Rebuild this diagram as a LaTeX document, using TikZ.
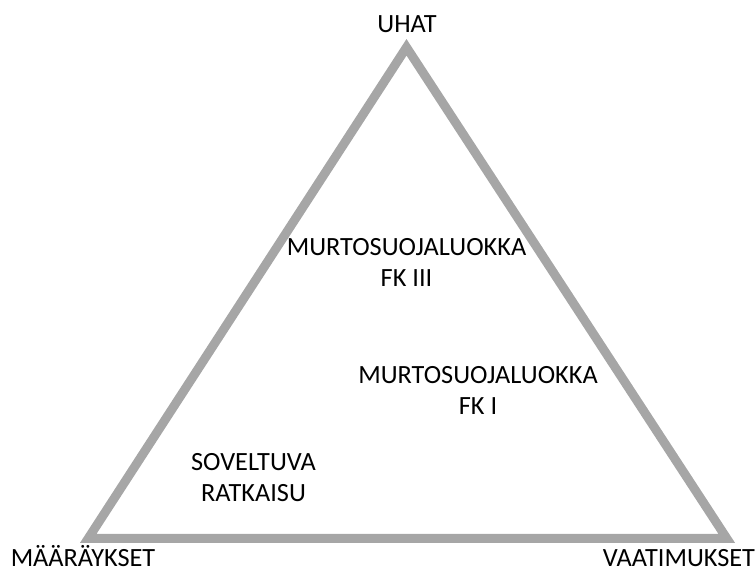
\documentclass[tikz,border=0pt]{standalone}
\usepackage{fontspec}
\setmainfont{Carlito}
\definecolor{edgegray}{RGB}{166,166,166}
\tikzset{
  lbl/.style={inner sep=0pt, align=center, text=black, font={\fontsize{26.3}{31.5}\selectfont}},
  tri/.style={draw=edgegray, line width=9pt, line join=miter}
}
\begin{document}
\begin{tikzpicture}[x=1pt,y=-1pt]
\useasboundingbox (0,0) rectangle (756,570);
\coordinate (top) at (406.5,47.3);
\coordinate (bl) at (88.3,538.3);
\coordinate (br) at (726.7,538.3);
\draw[tri] (top) -- (bl) -- (br) -- cycle;
\node[lbl, anchor=base] (uhat) at (407,32) {UHAT};
\node[lbl, anchor=base] (maar) at (83,566) {MÄÄRÄYKSET};
\node[lbl, anchor=base] (vaat) at (679,566) {VAATIMUKSET};
\node[lbl] (fk3) at (406.5,262.5) {MURTOSUOJALUOKKA\\FK III};
\node[lbl] (fk1) at (478,390.5) {MURTOSUOJALUOKKA\\FK I};
\node[lbl] (sov) at (253.5,477.5) {SOVELTUVA\\RATKAISU};
\end{tikzpicture}
\end{document}
